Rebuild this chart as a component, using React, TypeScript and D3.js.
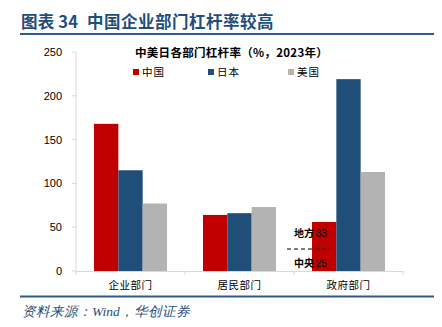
import React from "react";
import * as d3 from "d3";

const categories = ["企业部门", "居民部门", "政府部门"];
const seriesNames = ["中国", "日本", "美国"];
const china = [168, 64, 56];
const japan = [115, 66, 219];
const usa = [77, 73, 113];
const yTicks = [0, 50, 100, 150, 200, 250];
const colors = ["#C00000", "#1F4E79", "#B3B3B3"];

export default function App() {
  const W = 442, H = 327;
  const left = 76, right = 403, top = 52, bottom = 271;
  const x = d3.scaleBand().domain(categories).range([left, right]).paddingInner(0).paddingOuter(0);
  const y = d3.scaleLinear().domain([0, 250]).range([bottom, top]);
  const inner = d3.scaleBand().domain(seriesNames).range([0, x.bandwidth()]).paddingOuter(0.74).paddingInner(0);
  const series = [china, japan, usa];
  const cjk = "'Noto Sans CJK SC', sans-serif";
  const gov = categories[2];
  const gx = (x(gov) as number) + (inner("中国") as number);
  return (
    <svg width={W} height={H} style={{ position: "absolute", left: 0, top: 0 }}>
      <rect width={W} height={H} fill="#fff" />
      <text x={21} y={28} fontFamily={cjk} fontWeight="bold" fontSize={16.5} letterSpacing={0.2} fill="#1F4E79">
        图表 34
      </text>
      <text x={87} y={28} fontFamily={cjk} fontWeight="bold" fontSize={16.5} letterSpacing={0.5} fill="#1F4E79">
        中国企业部门杠杆率较高
      </text>
      <line x1={20} x2={434} y1={34} y2={34} stroke="#2E5C8A" strokeWidth={2} />
      {/* axes */}
      <line x1={left} x2={left} y1={top} y2={bottom} stroke="#D9D9D9" />
      {yTicks.map((t) => (
        <g key={t}>
          <line x1={left - 4} x2={left} y1={y(t)} y2={y(t)} stroke="#D9D9D9" />
          <text x={62} y={y(t) + 4} textAnchor="end" fontFamily="'Liberation Sans', Arial, sans-serif" fontSize={11} fill="#000">
            {t}
          </text>
        </g>
      ))}
      {series.map((vals, si) =>
        categories.map((c, ci) => (
          <rect
            key={si + "-" + ci}
            x={(x(c) as number) + (inner(seriesNames[si]) as number)}
            y={y(vals[ci])}
            width={inner.bandwidth()}
            height={bottom - y(vals[ci])}
            fill={colors[si]}
          />
        ))
      )}
      <line x1={left} x2={right} y1={bottom + 0.5} y2={bottom + 0.5} stroke="#D9D9D9" />
      {[...categories.map((c) => x(c) as number), right].map((p, i) => (
        <line key={i} x1={p} x2={p} y1={bottom} y2={bottom + 4} stroke="#D9D9D9" />
      ))}
      {categories.map((c) => (
        <text key={c} x={(x(c) as number) + x.bandwidth() / 2} y={289} textAnchor="middle" fontFamily={cjk} fontSize={10.5} letterSpacing={0.5} fill="#000">
          {c}
        </text>
      ))}
      {/* subtitle and legend */}
      <text x={135} y={57} fontFamily={cjk} fontWeight="bold" fontSize={11.5} letterSpacing={0.3} fill="#000">
        中美日各部门杠杆率（%，2023年）
      </text>
      {seriesNames.map((s, i) => {
        const lx = [133, 208, 288][i];
        return (
          <g key={s}>
            <rect x={lx} y={69} width={6} height={6} fill={colors[i]} />
            <text x={lx + 9} y={76} fontFamily={cjk} fontSize={10.5} letterSpacing={1} fill="#000">
              {s}
            </text>
          </g>
        );
      })}
      {/* annotation on government China bar */}
      <text x={gx + 2} y={237} textAnchor="end" fontFamily={cjk} fontWeight="bold" fontSize={10} fill="#000">地方</text>
      <text x={gx + 3.5} y={237} fontFamily="'Liberation Sans', Arial, sans-serif" fontSize={10.5} fill="#000">33</text>
      <line x1={287} x2={330} y1={249} y2={249} stroke="#000" strokeWidth={1.2} strokeDasharray="4,3" />
      <text x={gx + 2} y={267} textAnchor="end" fontFamily={cjk} fontWeight="bold" fontSize={10} fill="#000">中央</text>
      <text x={gx + 3.5} y={267} fontFamily="'Liberation Sans', Arial, sans-serif" fontSize={10.5} fill="#000">25</text>
      <line x1={20} x2={434} y1={296.5} y2={296.5} stroke="#2E5C8A" strokeWidth={2} />
      <text x={22} y={316} fontFamily="'Liberation Serif', serif" fontStyle="italic" fontSize={13.5} fill="#1F4E79">
        资料来源：Wind，华创证券
      </text>
    </svg>
  );
}
